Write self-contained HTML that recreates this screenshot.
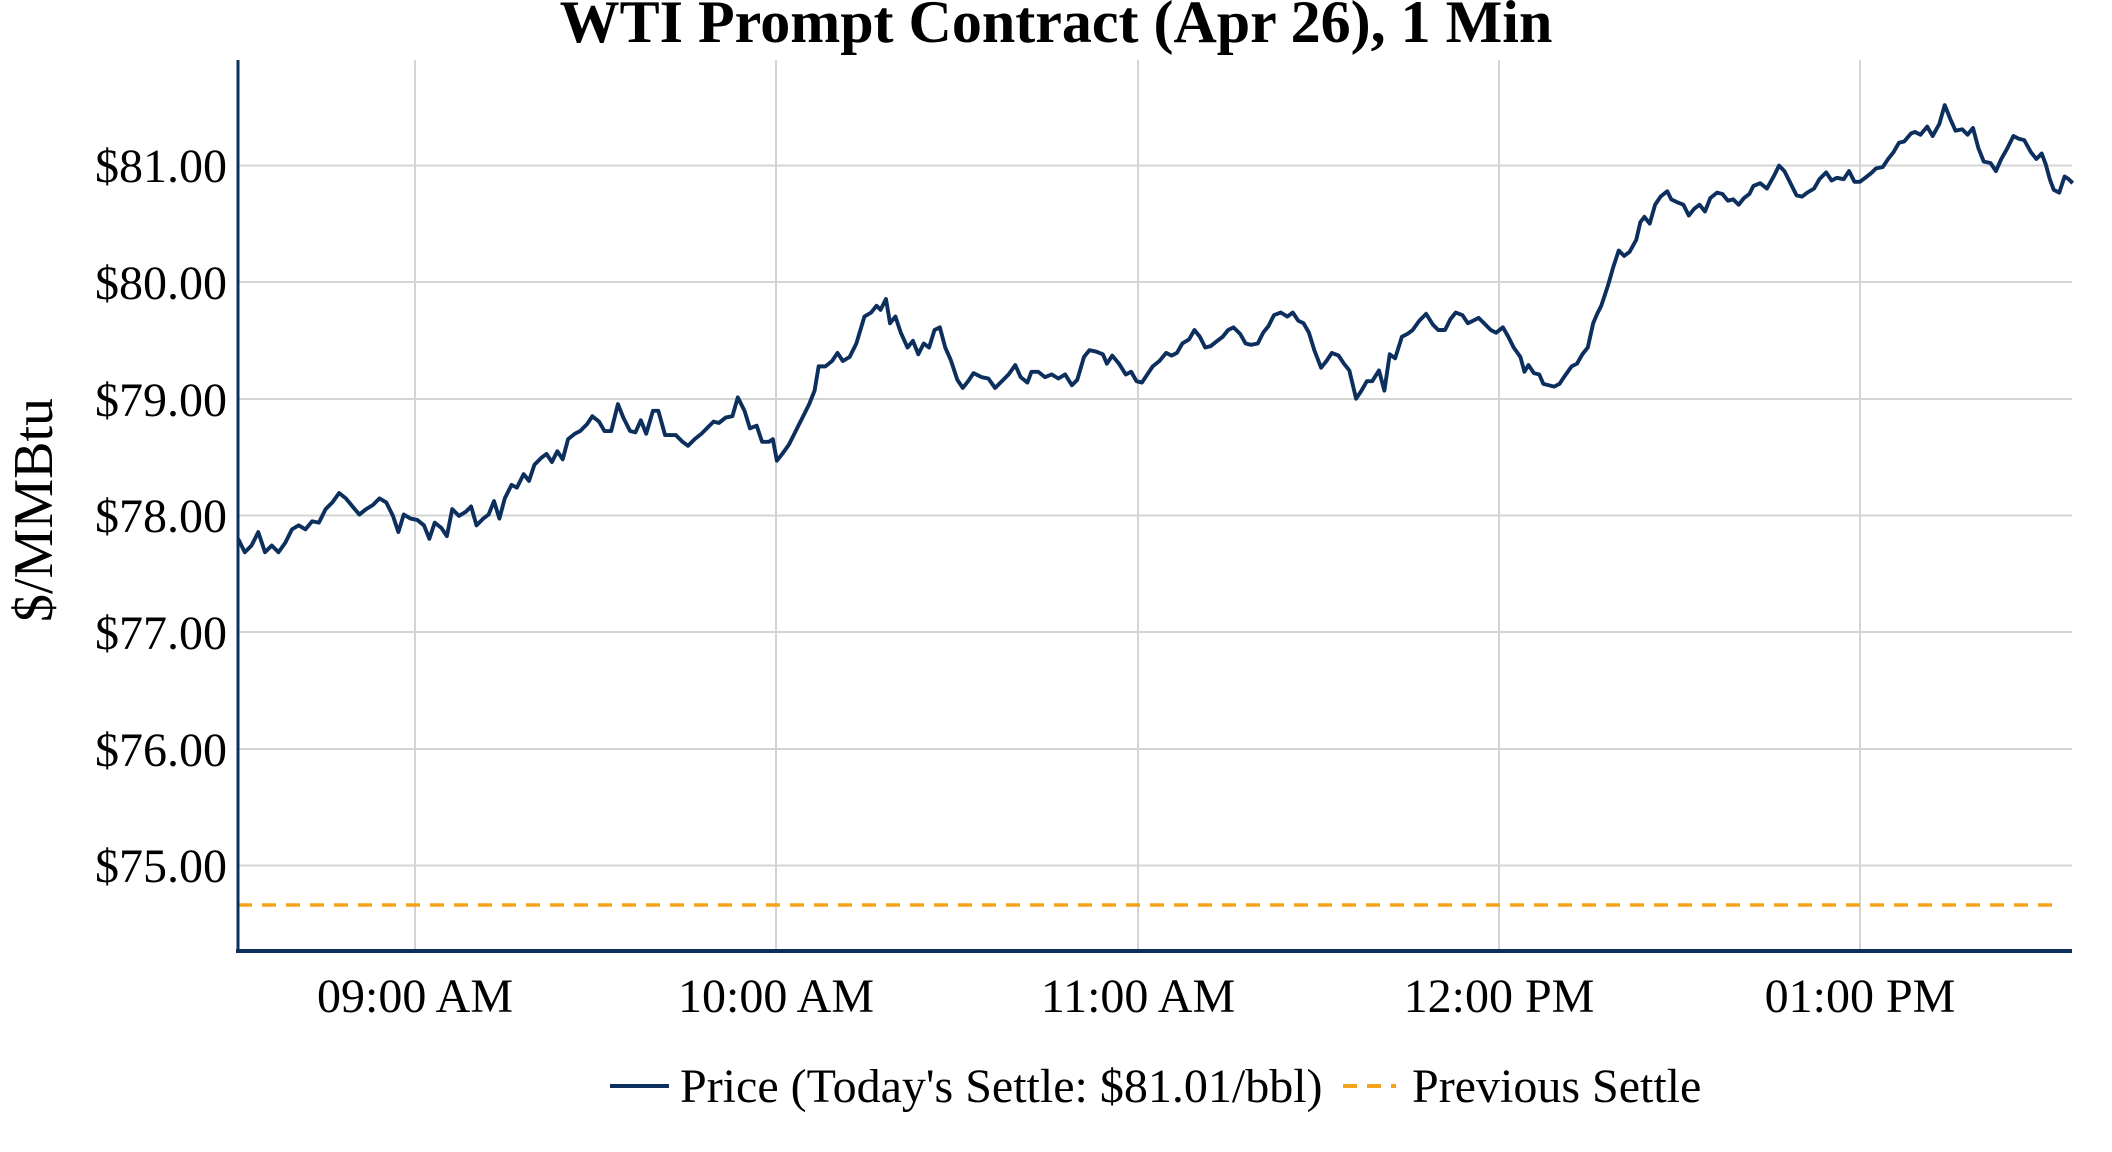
<!DOCTYPE html>
<html><head><meta charset="utf-8"><style>
html,body{margin:0;padding:0;background:#fff;}
svg{display:block;font-family:"Liberation Serif",serif;}
</style></head><body>
<svg width="2112" height="1152" viewBox="0 0 2112 1152" xmlns="http://www.w3.org/2000/svg">
<rect width="2112" height="1152" fill="#fff"/>
<g stroke="#d4d4d4" stroke-width="2">
<line x1="415" y1="60" x2="415" y2="951"/>
<line x1="776" y1="60" x2="776" y2="951"/>
<line x1="1138" y1="60" x2="1138" y2="951"/>
<line x1="1499" y1="60" x2="1499" y2="951"/>
<line x1="1860" y1="60" x2="1860" y2="951"/>
<line x1="238" y1="165.5" x2="2072" y2="165.5"/>
<line x1="238" y1="282" x2="2072" y2="282"/>
<line x1="238" y1="399" x2="2072" y2="399"/>
<line x1="238" y1="515.5" x2="2072" y2="515.5"/>
<line x1="238" y1="632" x2="2072" y2="632"/>
<line x1="238" y1="749" x2="2072" y2="749"/>
<line x1="238" y1="865.5" x2="2072" y2="865.5"/>
</g>
<line x1="238" y1="905" x2="2060" y2="905" stroke="#f7a21b" stroke-width="3.5" stroke-dasharray="14,10"/>
<g transform="translate(1,0) scale(1.347)">
<polyline fill="none" stroke="#0c2f5e" stroke-width="2.9" stroke-linejoin="round" points="176,400 181,410 186,405 191,395 196,410 201,405 206,410 211,403 216,393 221,390 226,393 231,387 236,388 241,378 246,373 251,366 256,370 261,376 266,382 271,378 276,375 281,370 286,373 291,383 295,395 299,382 304,385 309,386 314,390 318,400 322,388 327,392 331,398 335,378 340,383 345,380 349,376 353,390 358,385 362,382 366,372 370,385 374,370 379,360 383,362 388,352 392,357 396,345 401,340 405,337 409,343 413,335 417,341 421,326 426,322 430,320 435,315 439,309 444,313 448,320 453,320 458,300 462,310 467,320 471,321 475,312 479,322 484,305 488,305 493,323 497,323 501,323 506,328 510,331 515,326 520,322 524,318 529,313 533,314 538,310 543,309 547,295 552,305 556,318 561,316 565,328 570,328 573,326 576,342 580,337 585,330 590,320 595,310 600,300 604,290 607,272 612,272 617,268 621,262 625,268 630,265 635,255 638,245 641,235 646,232 650,227 653,230 657,222 660,240 664,235 668,247 673,258 677,253 681,263 685,255 689,258 693,245 697,243 701,258 705,267 710,282 714,288 718,283 722,277 728,280 733,281 738,288 743,283 748,278 753,271 757,280 762,284 765,276 770,276 775,280 780,278 785,281 790,278 795,286 799,282 804,265 808,260 813,261 818,263 821,270 825,264 830,270 835,278 839,276 843,283 847,284 851,278 855,272 860,268 865,262 869,264 873,262 877,255 882,252 886,245 890,250 894,258 898,257 903,253 907,250 911,245 915,243 920,248 924,255 928,256 933,255 937,247 941,242 945,234 950,232 955,235 959,232 963,238 967,240 971,247 975,260 980,273 984,268 988,262 993,264 997,270 1001,275 1006,296 1010,290 1014,283 1018,283 1023,275 1027,290 1031,263 1035,266 1040,250 1044,248 1048,245 1053,238 1058,233 1063,241 1067,245 1072,245 1076,237 1080,232 1085,234 1089,240 1093,238 1097,236 1101,240 1106,245 1110,247 1115,243 1119,250 1123,258 1128,265 1131,276 1134,271 1138,277 1142,278 1145,285 1149,286 1153,287 1157,285 1161,279 1166,272 1170,270 1174,263 1178,258 1182,240 1185,233 1188,227 1193,212 1197,198 1201,186 1205,190 1209,187 1214,178 1217,165 1220,161 1224,166 1228,152 1232,146 1237,142 1240,148 1244,150 1249,152 1253,160 1257,155 1261,152 1265,157 1269,147 1274,143 1278,144 1282,149 1286,148 1290,152 1294,147 1298,144 1301,138 1306,136 1311,140 1316,131 1320,123 1324,127 1328,135 1333,145 1337,146 1341,143 1346,140 1350,133 1355,128 1359,134 1363,132 1368,133 1372,127 1376,135 1380,135 1384,132 1389,128 1392,125 1397,124 1401,118 1405,113 1409,106 1413,105 1418,99 1421,98 1425,100 1430,94 1434,101 1439,92 1443,78 1447,88 1451,97 1456,96 1460,100 1464,95 1468,110 1472,120 1477,121 1481,127 1485,118 1489,111 1494,101 1498,103 1502,104 1507,113 1511,118 1515,114 1518,122 1521,133 1524,141 1528,143 1532,131 1535,133 1538,136"/>
</g>
<line x1="238" y1="60" x2="238" y2="953" stroke="#0c2f5e" stroke-width="3"/>
<line x1="236" y1="951" x2="2072" y2="951" stroke="#0c2f5e" stroke-width="4"/>
<g font-size="48" fill="#000" text-anchor="end">
<text x="227" y="182">$81.00</text>
<text x="227" y="299">$80.00</text>
<text x="227" y="416">$79.00</text>
<text x="227" y="532">$78.00</text>
<text x="227" y="649">$77.00</text>
<text x="227" y="766">$76.00</text>
<text x="227" y="882">$75.00</text>
</g>
<g font-size="48" fill="#000" text-anchor="middle">
<text x="415" y="1012">09:00 AM</text>
<text x="776" y="1012">10:00 AM</text>
<text x="1138" y="1012">11:00 AM</text>
<text x="1499" y="1012">12:00 PM</text>
<text x="1860" y="1012">01:00 PM</text>
</g>
<text x="1056" y="42" font-size="60" font-weight="bold" text-anchor="middle">WTI Prompt Contract (Apr 26), 1 Min</text>
<text transform="translate(52,510) rotate(-90)" font-size="56" text-anchor="middle">$/MMBtu</text>
<line x1="610" y1="1086" x2="669" y2="1086" stroke="#0c2f5e" stroke-width="4"/>
<text x="680" y="1102" font-size="48">Price (Today's Settle: $81.01/bbl)</text>
<line x1="1343" y1="1086" x2="1396" y2="1086" stroke="#f7a21b" stroke-width="4" stroke-dasharray="14,10"/>
<text x="1412" y="1102" font-size="48">Previous Settle</text>
</svg>
</body></html>
